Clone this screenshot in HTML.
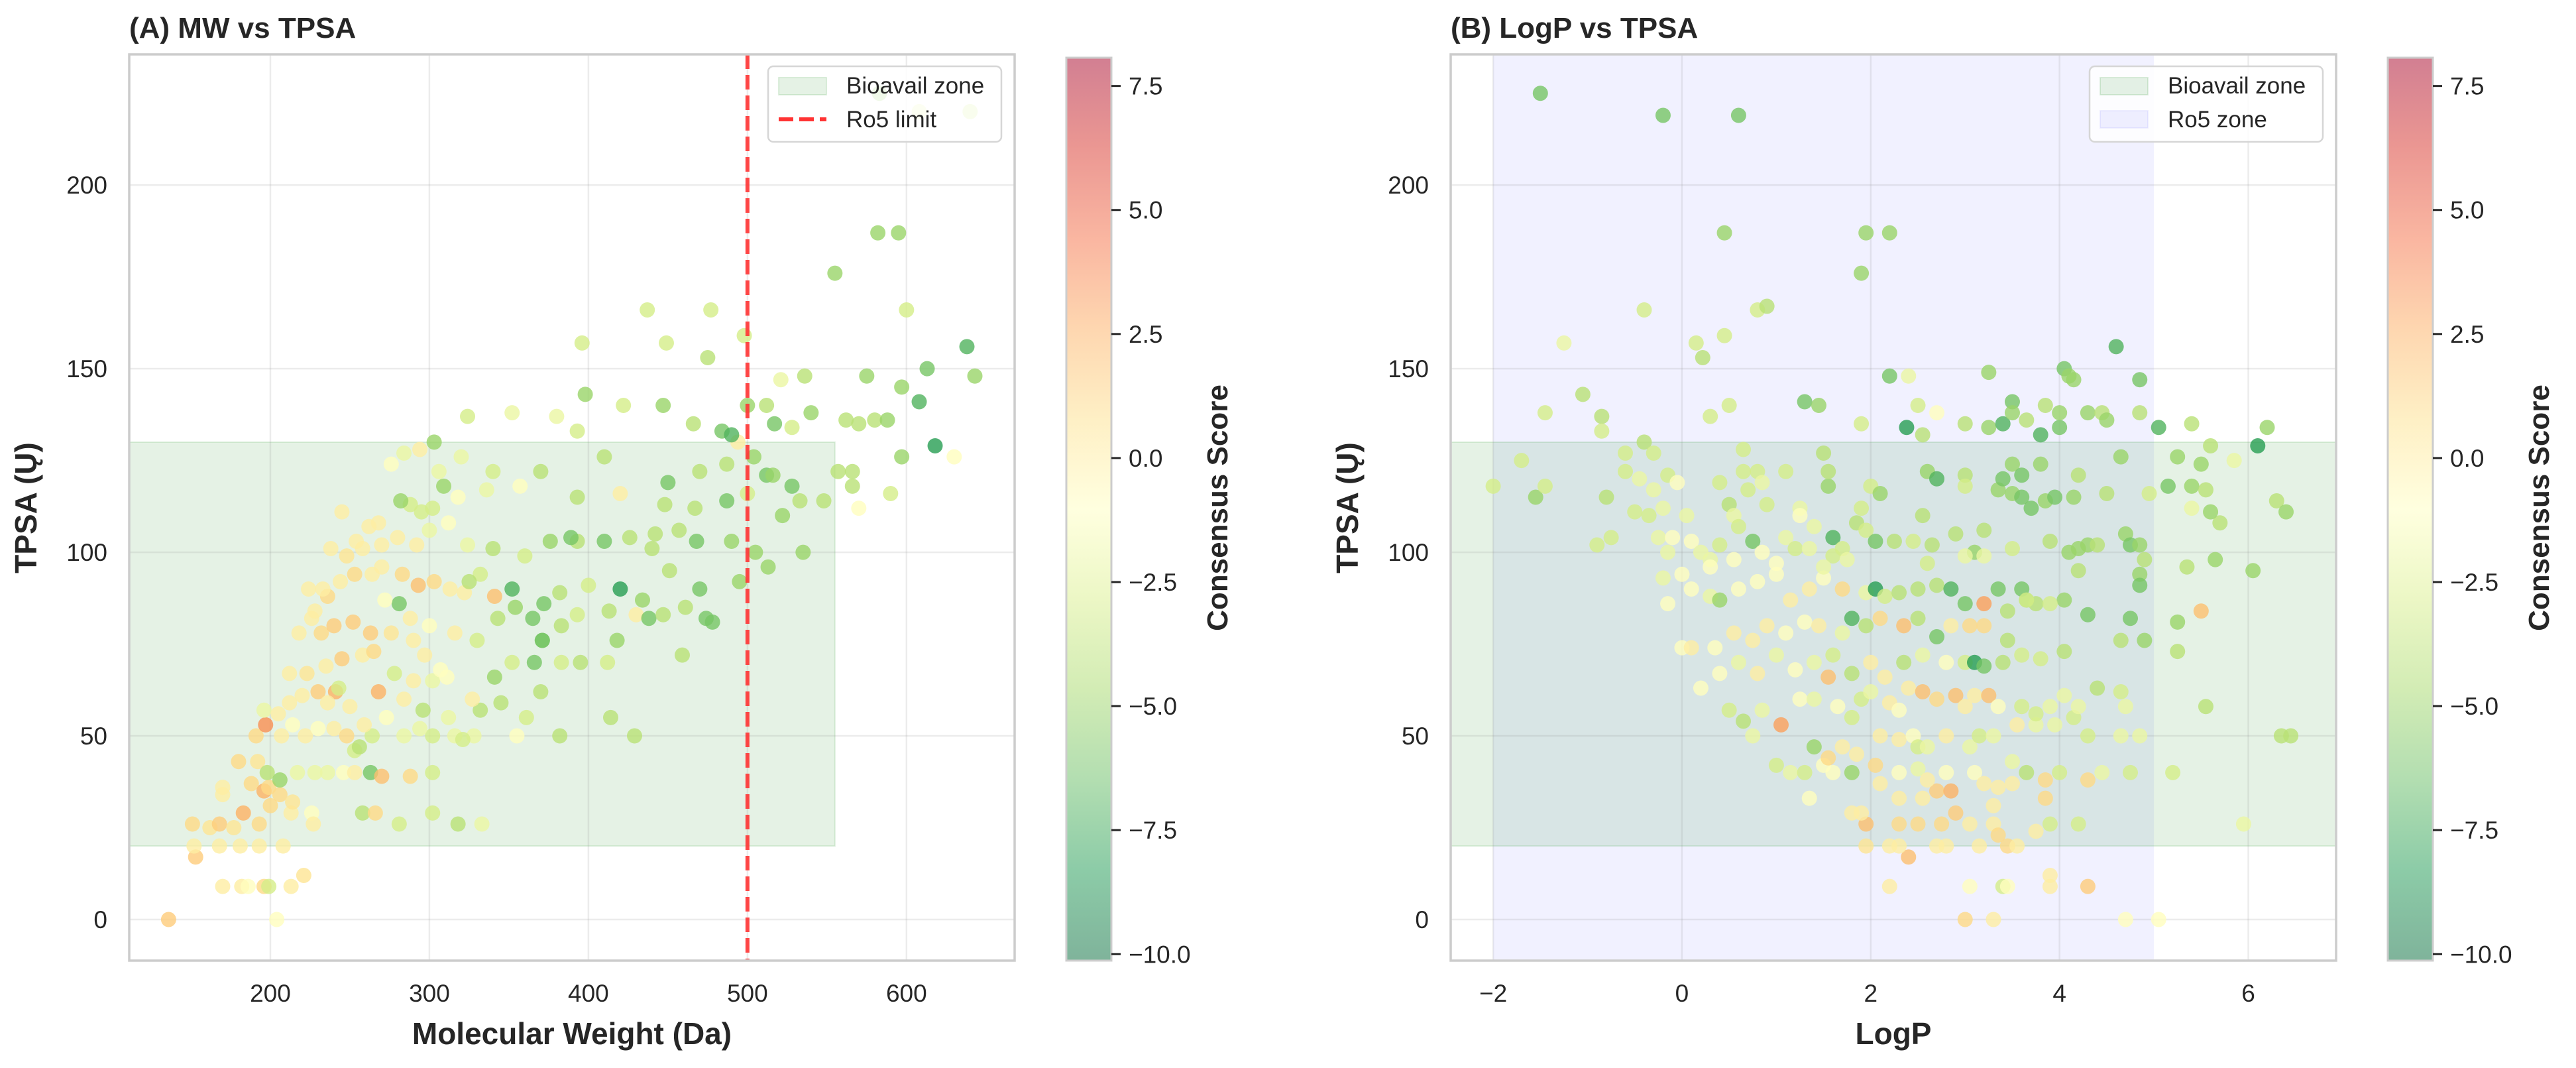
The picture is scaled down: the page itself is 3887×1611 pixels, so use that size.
<!DOCTYPE html>
<html><head><meta charset="utf-8"><style>
html,body{margin:0;padding:0;background:#fff;}
svg{display:block;font-family:"Liberation Sans",Arial,sans-serif;}
</style></head><body>
<svg id="fig" width="3887" height="1611" viewBox="0 0 3887 1611" xmlns="http://www.w3.org/2000/svg"></svg>
<script>
// ---------- Panel A data (MW, TPSA, consensus score) ----------
const mwA = [136,204,170,182,186,196,199,213,221,153,
152,168,181,193,208,151,162,168,177,183,
193,200,213,226,227,258,266,281,302,318,
333,170,170,188,196,199,206,214,180,192,
198,206,217,228,236,246,253,263,270,288,
302,253,256,191,197,207,214,222,230,240,
248,264,284,302,316,328,355,382,429,196,
205,212,220,230,241,250,268,284,296,312,
332,345,361,414,212,223,235,245,258,265,
278,290,302,311,327,341,352,366,370,383,
395,412,459,218,226,232,240,252,263,276,
290,300,316,330,343,354,365,371,383,393,
413,418,430,438,447,461,474,478,224,236,
244,253,264,270,283,293,303,313,322,332,
341,352,372,382,400,420,434,451,470,495,
238,248,258,270,280,292,300,312,324,340,
360,376,393,410,426,442,457,468,490,505,
513,535,245,268,288,302,318,336,357,393,
420,448,467,487,500,512,522,533,548,276,
284,294,306,320,340,370,410,450,470,487,
494,504,516,528,557,566,570,590,303,324,
352,380,393,422,447,466,484,490,500,512,
517,528,540,562,570,580,588,597,608,618,
630,566,575,597,613,638,643,536,521,600,
555,582,595,437,477,396,449,475,498,398,
282,295,309,262,254,233,228,288,297,307,
243,236,273,294,321,259,281,272,325,371,
440,389,583,608,640];
const tpsaA = [0,0,9,9,9,9,9,9,12,17,
20,20,20,20,20,26,25,26,25,29,
26,31,29,29,26,29,29,26,29,26,
26,34,36,37,35,36,34,32,43,43,
40,38,40,40,40,40,40,40,39,39,
40,46,47,50,53,50,53,50,52,52,
50,50,50,50,50,50,50,50,50,57,
56,59,61,62,62,58,62,60,57,55,
57,59,55,55,67,67,69,71,72,73,
67,65,65,66,60,66,70,70,62,70,
70,70,72,78,82,78,80,81,78,78,
76,80,78,76,82,85,82,76,80,83,
84,76,83,82,83,85,82,81,90,88,
92,94,94,96,94,91,92,90,89,94,
88,90,86,89,91,90,87,95,90,92,
101,99,101,102,104,102,106,108,102,101,
99,103,103,103,104,105,106,103,103,100,
96,100,111,108,113,112,115,117,118,115,
116,113,112,114,116,121,110,114,114,124,
127,128,122,126,122,122,126,119,122,124,
130,126,121,118,122,118,112,116,130,137,
138,137,133,140,140,135,133,132,140,140,
135,134,138,136,135,136,136,126,141,129,
126,122,148,145,150,156,148,148,147,166,
176,187,187,166,166,157,157,153,159,143,
114,111,118,107,103,90,84,82,72,68,
63,59,55,52,49,53,86,87,92,76,
101,104,225,220,220];
const scoreA = [1.5,-1,0,0,-1,1,-3,0,0.5,1.5,
0,0,0,0,0,1,0.5,1.5,0.5,2.5,
1,1,0,-1,0,-4,1,-3,-3,-4,
-2,0,0,1,2.5,1,1,0.5,1,0.5,
-4,-5,-2,-2,-2,-1,0,-6,2,1,
-3,-3,-4,1,3.5,0,-1,0,-1,0,
1,-3,-2,-3,-2,-2,-1,-4,-4,-2,
0,0,0,1.5,2.5,0,2.5,0,-4,-2,
-4,-4,-3,-4,0,0.5,0,1.5,0,1,
-3,0,-2,-1,0,-5,-3,-6,-4,-3,
-4,-3,-4,0,0,1,1.5,1.5,1.5,0.5,
0,-1,0,-3,-4,-5,-6,-6,-4,-3,
-4,-5,0,-6,-4,-4,-6,-6,0,1,
0,1,0,0,1,2,1,0,0,-3,
2,-7,-6,-4,-3,-8,-5,-4,-6,-5,
0,0.5,0,0,0,0,-2,-1,-2,-4,
-3,-5,-4,-6,-4,-4,-4,-6,-5,-5,
-5,-5,0,0,-3,-3,-1,-2,-1,-4,
0,-4,-4,-6,-3,-6,-5,-4,-4,-1,
-2,0,-2,-2,-3,-4,-4,-6,-4,-4,
0,-5,-5,-6,-4,-4,-1,-3,-5,-3,
-2,-2,-3,-3,-5,-4,-6,-7,-5,-4,
-6,-3,-5,-4,-4,-4,-5,-5,-7,-8,
-1,-4,-5,-5,-6,-7,-5,-4,-2,-3,
-5,-5,-5,-3,-3,-3,-3,-4,-3,-5,
-5,-3,-5,0,0,0,0,0,0,-1,
-3,0,-1,-2,-3,0,-6,-1,-4,-6,
-4,-6,-5,-2,-3];

// ---------- Panel B data (LogP, TPSA, consensus score) ----------
const logpB = [-1.5,-0.2,0.6,0.45,1.95,2.2,1.9,-0.4,0.8,0.9,
-1.25,0.15,0.22,0.45,-1.05,-1.45,-0.85,-0.85,0.3,0.5,
1.3,1.45,1.9,2.2,2.4,2.5,2.38,2.7,2.55,3.0,
3.25,3.25,3.4,3.5,3.5,3.65,3.8,3.85,4.0,4.0,
4.05,4.1,4.15,4.3,4.45,4.5,4.6,4.85,4.85,5.05,
5.4,6.1,6.2,-2.0,-1.7,-1.55,-1.45,-0.9,-0.75,-0.8,
-0.6,-0.6,-0.4,-0.45,-0.3,-0.3,-0.2,-0.15,-0.05,-0.35,
-0.5,-0.25,-0.1,0.1,0.05,-0.15,0.2,0.3,0.4,0.4,
0.5,0.55,0.65,0.65,0.7,0.8,0.85,0.9,1.1,0.75,
0.6,0.85,1.0,1.1,1.2,1.25,1.25,1.35,1.4,1.5,
1.55,1.55,1.6,1.6,1.7,1.75,1.85,1.9,1.95,2.0,
2.05,2.1,2.25,2.45,2.55,2.6,2.7,2.65,2.9,3.0,
3.0,3.2,3.1,3.2,3.35,3.4,3.5,3.5,3.6,3.6,
3.7,3.8,3.85,3.95,3.9,4.1,4.15,4.2,4.2,4.3,
4.4,4.5,4.65,4.7,4.75,4.85,4.9,4.95,4.85,4.85,
5.15,5.25,5.4,5.4,5.5,5.55,5.6,5.85,5.65,5.7,
5.6,6.05,6.3,6.4,5.35,5.25,5.5,5.25,5.55,6.35,
6.45,5.2,5.95,4.7,5.05,3.0,3.3,2.2,3.05,3.4,
3.45,3.9,3.9,4.3,2.4,1.95,2.2,2.3,2.7,2.8,
3.15,3.45,3.55,1.95,2.3,2.5,2.75,3.05,3.3,3.35,
3.75,3.9,4.2,1.8,1.9,2.3,2.55,2.7,2.85,2.9,
3.3,3.35,3.5,3.85,1.0,1.15,1.3,1.5,1.6,1.8,
1.85,2.05,2.1,2.3,2.5,2.6,2.8,3.1,3.2,3.5,
3.65,3.85,4.0,4.3,4.45,4.75,1.35,1.4,1.55,1.7,
2.1,2.3,2.45,2.5,2.6,2.8,3.05,3.15,3.3,3.55,
3.75,3.95,4.15,4.3,4.65,4.85,0.75,0.5,0.65,0.85,
1.05,1.25,1.4,1.55,1.65,1.8,1.9,2.0,2.2,2.3,
2.4,2.55,2.7,2.9,3.0,3.1,3.25,3.35,3.6,3.75,
3.9,4.05,4.2,4.4,4.65,4.7,0.2,0.4,0.6,0.8,
1.0,1.2,1.4,1.6,1.8,2.0,2.15,2.35,2.55,2.8,
3.0,3.1,3.2,3.4,3.6,3.8,4.05,0.0,0.1,0.35,
0.55,0.75,0.9,1.1,1.3,1.45,1.7,1.8,1.95,2.1,
2.35,2.5,2.7,2.85,3.05,3.2,3.45,3.45,3.65,3.75,
4.05,4.3,4.65,4.9,4.75,-0.15,0.1,0.3,0.4,0.6,
0.8,1.0,1.15,1.35,1.5,1.7,1.95,2.05,2.15,2.3,
2.5,2.7,2.85,3.0,3.2,3.35,3.6,3.65,3.9,4.2,
-0.2,0.0,0.3,0.55,1.5,2.6,3.0,3.5];
const tpsaB = [225,219,219,187,187,187,176,166,166,167,
157,157,153,159,143,138,137,133,137,140,
141,140,135,148,148,140,134,138,132,135,
149,134,135,141,138,136,132,140,134,138,
150,148,147,138,138,136,156,147,138,134,
135,129,134,118,125,115,118,102,104,115,
122,127,130,120,127,117,112,121,119,110,
111,104,104,103,110,100,100,98,102,119,
113,110,122,128,117,122,119,113,122,103,
107,100,97,104,101,112,110,101,107,127,
118,122,104,99,101,98,108,112,106,118,
103,116,103,103,110,122,120,102,105,121,
118,106,100,99,117,120,124,116,115,121,
112,124,114,115,103,100,115,121,101,102,
102,116,126,105,102,102,98,116,94,91,
118,126,118,112,124,117,129,125,98,108,
111,95,114,111,96,81,84,73,58,50,
50,40,26,0,0,0,0,9,9,9,
9,9,12,9,17,20,20,20,20,20,
20,20,20,26,26,26,26,26,26,23,
24,26,26,29,29,33,33,35,35,29,
31,36,37,33,42,40,40,42,40,40,
45,42,37,40,41,38,40,40,37,43,
40,38,40,38,40,40,33,47,44,47,
50,49,50,47,47,50,47,50,50,53,
53,53,55,50,50,50,50,57,54,57,
53,60,60,66,58,55,60,62,59,57,
63,62,60,61,58,61,61,58,58,56,
58,61,58,63,62,58,63,67,70,67,
72,68,70,72,67,70,66,70,72,70,
70,70,69,70,72,71,73,74,74,74,
78,76,80,78,81,80,78,82,80,82,
80,82,77,80,80,80,76,84,87,86,
87,83,76,76,82,86,90,88,87,90,
92,94,87,90,93,90,89,90,88,89,
90,91,90,86,86,90,90,87,86,95,
93,94,96,98,96,97,99,101];
const scoreB = [-6,-6,-6,-5,-5,-5,-5,-3,-3,-4,
-2,-3,-4,-3,-4,-3,-4,-3,-3,-3,
-6,-5,-3,-6,-2,-3,-8,-1,-4,-4,
-5,-5,-7,-6,-5,-4,-7,-4,-6,-5,
-6,-5,-5,-5,-4,-5,-7,-6,-4,-7,
-4,-8,-5,-3,-3,-5,-3,-3,-3,-4,
-3,-3,-4,-2,-3,-2,-2,-3,-1,-3,
-3,-2,-1,-1,-2,-2,-2,-2,-3,-3,
-4,-2,-3,-3,-3,-3,-2,-3,-3,-6,
-3,-1,-1,-2,-3,-2,-1,-2,-2,-4,
-5,-4,-7,-3,-3,-2,-4,-3,-3,-3,
-6,-5,-4,-3,-4,-5,-7,-4,-4,-4,
-3,-4,-5,-2,-5,-6,-5,-5,-6,-6,
-6,-5,-5,-6,-4,-5,-5,-4,-5,-5,
-4,-4,-5,-5,-6,-5,-4,-3,-5,-6,
-6,-5,-5,-2,-5,-4,-4,-2,-5,-4,
-5,-5,-4,-5,-4,-5,2,-4,-4,-4,
-4,-3,-2,-1,-1,1,0,0,-1,-3,
-1,0,0,1.5,2,0.5,0,0,0,0,
0,1,0,2,1,1,1,0,0,1,
0,-3,-3,0,0,0,0,1.5,2.5,1.5,
0,0,0,1,-3,-2,-3,-1,-1,-5,
0,1,0,-1,-2,0,-1,-1,0,-2,
-4,1,-3,1,-2,-3,-1,-5,1,0,
0,0,-1,-3,-2,0,-2,-3,-2,0,
-2,-2,-3,-3,-2,-2,-2,-3,-4,-2,
3,-1,-2,2,-1,-3,-3,-2,0,-1,
0,2,1,2,0,0,2,-1,-3,-3,
-2,-2,-2,-4,-3,-2,-1,-1,-2,0,
-2,-1,-2,-3,-4,0,0,-4,-2,-1,
-3,-8,-6,-4,-3,-3,-4,-1,0,-1,
0,0,0,-1,-1,0,-2,-7,-4,1,
2,-4,-6,0,1,1,-4,-4,-5,-4,
-5,-6,-4,-5,-6,-1,-1,-2,-5,-1,
-1,-1,0,0,-1,1,-2,-8,-3,-4,
-4,-4,-7,-6,3,-6,-6,-3,-3,-4,
-2,-1,-1,-1,-2,-3,-2,-3];

// ---------- ticks ----------
const xTicksA = [200,300,400,500,600];
const xTicksB = [-2,0,2,4,6];
const yTicks = [0,50,100,150,200];
const cbTicks = [7.5,5.0,2.5,0.0,-2.5,-5.0,-7.5,-10.0];

const NS="http://www.w3.org/2000/svg";
const svg=document.getElementById('fig');
function mk(tag,attrs,parent){const e=document.createElementNS(NS,tag);for(const k in attrs)e.setAttribute(k,attrs[k]);(parent||svg).appendChild(e);return e;}

const VMIN=-10.13,VMAX=8.07;
const stops=[[165,0,38],[215,48,39],[244,109,67],[253,174,97],[254,224,139],[255,255,191],[217,239,139],[166,217,106],[102,189,99],[26,152,80],[0,104,55]];
function rdylgn(t){t=Math.max(0,Math.min(1,t));const p=t*10,i=Math.min(9,Math.floor(p)),f=p-i;const a=stops[i],b=stops[i+1];return 'rgb('+a.map((v,k)=>Math.round(v+(b[k]-v)*f)).join(',')+')';}
function cmap(v){return rdylgn(1-(v-VMIN)/(VMAX-VMIN));}

const Y0=1449,Y1=82,YMIN=-11.2,YMAX=235.6;
function ys(v){return Y0-(v-YMIN)/(YMAX-YMIN)*(Y0-Y1);}

function panel(cfg){
  const {L,R,xmin,xmax}=cfg;
  const xs=v=>L+(v-xmin)/(xmax-xmin)*(R-L);
  const g=mk('g',{});
  
  
  const clipId='clip'+cfg.id;
  const cp=mk('clipPath',{id:clipId},g);mk('rect',{x:L,y:Y1,width:R-L,height:Y0-Y1},cp);
  const plot=mk('g',{'clip-path':'url(#'+clipId+')'},g);
  if(cfg.ro5zone){const r=mk('rect',{x:xs(-2),y:Y1,width:xs(5)-xs(-2),height:Y0-Y1,fill:'rgb(0,0,255)','fill-opacity':0.055},plot);
    }
  const bx0=cfg.bioX0!=null?xs(cfg.bioX0):L, bx1=cfg.bioX1!=null?xs(cfg.bioX1):R;
  const bz=mk('rect',{x:bx0,y:ys(130),width:bx1-bx0,height:ys(20)-ys(130),fill:'rgb(0,128,0)','fill-opacity':0.1,stroke:'rgb(0,128,0)','stroke-opacity':0.12,'stroke-width':2},plot);
  
  cfg.xt.forEach(t=>{const l=mk('line',{x1:xs(t),x2:xs(t),y1:Y1,y2:Y0,stroke:'#888','stroke-opacity':0.16,'stroke-width':2.5},plot);
    });
  yTicks.forEach(t=>{const l=mk('line',{x1:L,x2:R,y1:ys(t),y2:ys(t),stroke:'#888','stroke-opacity':0.16,'stroke-width':2.5},plot);
    });
  for(let i=0;i<cfg.xv.length;i++){
    const c=mk('circle',{cx:xs(cfg.xv[i]),cy:ys(cfg.yv[i]),r:11.5,fill:cmap(cfg.sv[i]),'fill-opacity':0.8},plot);
    
    
  }
  if(cfg.ro5line){const l=mk('line',{x1:xs(500),x2:xs(500),y1:Y1,y2:Y0,stroke:'#ff3333','stroke-opacity':0.9,'stroke-width':6,'stroke-dasharray':'22,9'},plot);
    }
  const sp=mk('rect',{x:L,y:Y1,width:R-L,height:Y0-Y1,fill:'none',stroke:'#cccccc','stroke-width':3.5},g);
  
  cfg.xt.forEach(t=>{const tx=mk('text',{x:xs(t),y:1511,'text-anchor':'middle','font-size':37,fill:'#262626'},g);tx.textContent=(t<0?'\u2212'+(-t):String(t));
    });
  yTicks.forEach(t=>{const tx=mk('text',{x:L-33,y:ys(t)+13,'text-anchor':'end','font-size':37,fill:'#262626'},g);tx.textContent=String(t);
    });
  const xl=mk('text',{x:(L+R)/2,y:1575,'text-anchor':'middle','font-size':46,'font-weight':'bold',fill:'#262626'},g);xl.textContent=cfg.xlabel;
  
  const yl=mk('text',{x:0,y:0,'text-anchor':'middle','font-size':46,'font-weight':'bold',fill:'#262626',transform:'translate('+(L-140)+',766) rotate(-90)'},g);yl.textContent='TPSA (\u0172)';
  
  const ti=mk('text',{x:L,y:57,'font-size':44,'font-weight':'bold',fill:'#262626'},g);ti.textContent=cfg.title;
  
  const lg=mk('g',{},g);
  const lx=R-372,ly=100;
  mk('rect',{x:lx,y:ly,width:352,height:114,rx:8,fill:'#fff','fill-opacity':0.82,stroke:'#d6d6d6','stroke-width':2.5},lg);
  const e1=mk('rect',{x:lx+16,y:ly+17,width:72,height:26,fill:'rgb(0,128,0)','fill-opacity':0.1,stroke:'rgb(0,128,0)','stroke-opacity':0.12,'stroke-width':2},lg);
  
  const t1=mk('text',{x:lx+118,y:ly+41,'font-size':35,fill:'#262626'},lg);t1.textContent='Bioavail zone';
  
  if(cfg.ro5line){const e2=mk('line',{x1:lx+16,x2:lx+88,y1:ly+80,y2:ly+80,stroke:'#ff3333','stroke-width':6,'stroke-dasharray':'22,9'},lg);
    }
  else{const e2=mk('rect',{x:lx+16,y:ly+67,width:72,height:26,fill:'rgb(0,0,255)','fill-opacity':0.06,stroke:'rgb(0,0,255)','stroke-opacity':0.06,'stroke-width':2},lg);
    }
  const t2=mk('text',{x:lx+118,y:ly+92,'font-size':35,fill:'#262626'},lg);t2.textContent=cfg.ro5line?'Ro5 limit':'Ro5 zone';
  
  const CL=cfg.cbL,CW=68,CT=87,CB=1449;
  const cb=mk('g',{},g);
  const gid='grad'+cfg.id;const gr=mk('linearGradient',{id:gid,x1:0,y1:0,x2:0,y2:1},cb);
  for(let k=0;k<=10;k++){mk('stop',{offset:k/10,'stop-color':rdylgn(k/10)},gr);}
  mk('rect',{x:CL,y:CT,width:CW,height:CB-CT,fill:'url(#'+gid+')','fill-opacity':0.5},cb);
  mk('rect',{x:CL,y:CT,width:CW,height:CB-CT,fill:'none',stroke:'#cccccc','stroke-width':3},cb);
  const cys=v=>CT+(VMAX-v)/(VMAX-VMIN)*(CB-CT);
  cbTicks.forEach(t=>{mk('line',{x1:CL+CW,x2:CL+CW+14,y1:cys(t),y2:cys(t),stroke:'#262626','stroke-width':3},cb);
    const tx=mk('text',{x:CL+CW+26,y:cys(t)+13,'font-size':37,fill:'#262626'},cb);tx.textContent=(t<0?'\u2212'+(-t).toFixed(1):t.toFixed(1));
    });
  const cl=mk('text',{x:0,y:0,'text-anchor':'middle','font-size':44,'font-weight':'bold',fill:'#262626',transform:'translate('+(CL+CW+175)+',766) rotate(-90)'},cb);cl.textContent='Consensus Score';
  
}

panel({id:'A',name:'panel-a-mw-vs-tpsa',L:195,R:1531,xmin:111.25,xmax:668,xv:mwA,yv:tpsaA,sv:scoreA,xt:xTicksA,
  xlabel:'Molecular Weight (Da)',title:'(A) MW vs TPSA',bioX0:null,bioX1:555,ro5line:true,ro5zone:false,cbL:1609});
panel({id:'B',name:'panel-b-logp-vs-tpsa',L:2189,R:3525,xmin:-2.45,xmax:6.93,xv:logpB,yv:tpsaB,sv:scoreB,xt:xTicksB,
  xlabel:'LogP',title:'(B) LogP vs TPSA',bioX0:null,bioX1:null,ro5line:false,ro5zone:true,cbL:3603});
</script>
</body></html>
